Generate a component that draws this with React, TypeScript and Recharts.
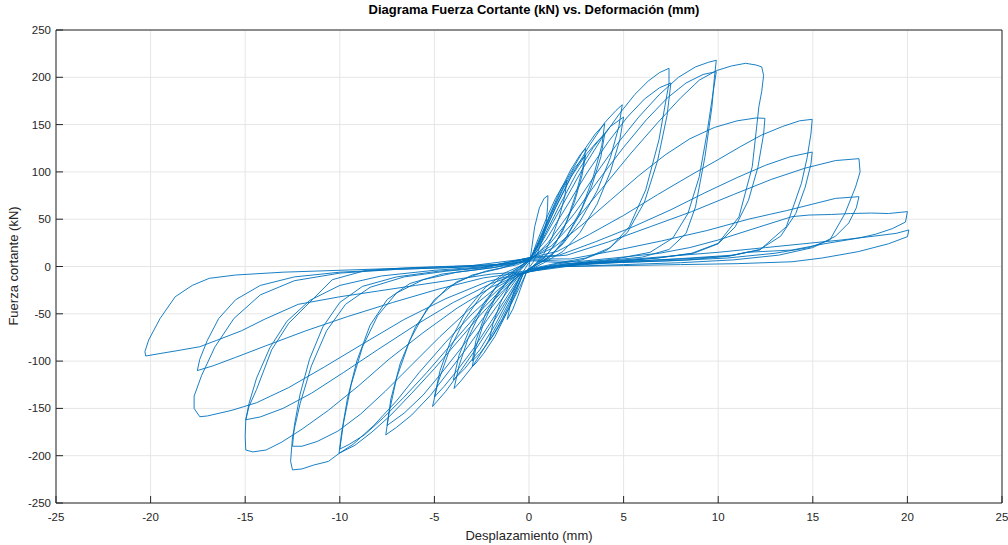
import React from 'react';
import { LineChart, Line, XAxis, YAxis, CartesianGrid } from 'recharts';

// axis ticks
const xTicks = [-25, -20, -15, -10, -5, 0, 5, 10, 15, 20, 25];
const yTicks = [-250, -200, -150, -100, -50, 0, 50, 100, 150, 200, 250];

// hysteresis cycles, [desplazamiento mm, fuerza kN]
const cycle01 = [
  [0, 0], [0.15, 20], [0.3, 42], [0.55, 62], [0.8, 72], [1.0, 75],
  [0.98, 62], [0.9, 45], [0.7, 28], [0.45, 14], [0.2, 4], [-0.1, -4],
  [-0.35, -18], [-0.6, -32], [-0.85, -45], [-1.15, -56],
  [-1.0, -42], [-0.8, -26], [-0.5, -12], [-0.2, -2], [0.05, 6],
];
const cycle02 = [
  [0.4, 25], [0.9, 50], [1.4, 72], [1.8, 86], [2.0, 91],
  [1.9, 75], [1.6, 52], [1.2, 30], [0.8, 14], [0.4, 4], [-0.1, -5],
  [-0.5, -22], [-1.0, -42], [-1.5, -60], [-1.9, -73], [-2.1, -78],
  [-1.9, -60], [-1.5, -38], [-1.0, -18], [-0.5, -5], [0, 6],
];
const cycle03 = [
  [0.4, 22], [1.0, 50], [1.6, 78], [2.2, 102], [2.7, 118], [3.0, 125],
  [2.85, 105], [2.5, 78], [2.0, 48], [1.4, 24], [0.8, 9], [0.2, 0], [-0.3, -7],
  [-0.7, -28], [-1.2, -50], [-1.8, -74], [-2.4, -92], [-2.8, -102], [-3.0, -106],
  [-2.8, -85], [-2.4, -60], [-1.8, -34], [-1.1, -14], [-0.4, -2], [0.1, 8],
];
const cycle04 = [
  [0.5, 24], [1.1, 52], [1.8, 82], [2.4, 104], [3.0, 118],
  [2.8, 96], [2.4, 68], [1.8, 38], [1.1, 16], [0.4, 3], [-0.3, -7],
  [-0.8, -30], [-1.4, -55], [-2.0, -76], [-2.6, -92], [-3.0, -100],
  [-2.8, -78], [-2.3, -50], [-1.6, -26], [-0.9, -9], [-0.2, 2], [0.1, 9],
];
const cycle05 = [
  [0.5, 25], [1.2, 58], [2.0, 92], [2.8, 120], [3.5, 140], [4.0, 151],
  [3.85, 128], [3.4, 95], [2.8, 62], [2.0, 32], [1.2, 12], [0.4, 2], [-0.3, -8],
  [-0.8, -28], [-1.5, -55], [-2.3, -84], [-3.0, -106], [-3.6, -121], [-3.96, -129],
  [-3.7, -105], [-3.2, -75], [-2.5, -45], [-1.7, -20], [-0.8, -5], [0.1, 9],
];
const cycle06 = [
  [0.6, 26], [1.4, 62], [2.2, 94], [3.0, 118], [3.6, 132], [4.0, 140],
  [3.8, 116], [3.3, 84], [2.6, 52], [1.8, 25], [1.0, 8], [0.2, 0], [-0.4, -8],
  [-1.0, -32], [-1.8, -62], [-2.6, -88], [-3.4, -108], [-4.0, -120],
  [-3.7, -94], [-3.1, -64], [-2.3, -36], [-1.4, -14], [-0.5, -2], [0.1, 9],
];
const cycle07 = [
  [0.6, 28], [1.4, 62], [2.3, 98], [3.2, 128], [4.0, 152], [4.6, 165], [4.93, 171],
  [4.75, 148], [4.3, 115], [3.6, 80], [2.7, 48], [1.8, 24], [0.9, 8], [0.1, -2], [-0.4, -9],
  [-1.0, -30], [-1.8, -56], [-2.7, -84], [-3.6, -110], [-4.4, -132], [-5.1, -148],
  [-4.8, -122], [-4.2, -88], [-3.4, -56], [-2.5, -30], [-1.5, -12], [-0.6, -2], [0.1, 9],
];
const cycle08 = [
  [0.7, 28], [1.6, 64], [2.5, 98], [3.4, 126], [4.3, 148], [5.0, 158],
  [4.8, 134], [4.3, 100], [3.6, 66], [2.7, 36], [1.8, 16], [0.8, 4], [-0.4, -8],
  [-1.1, -30], [-2.0, -58], [-2.9, -86], [-3.8, -110], [-4.5, -127], [-5.0, -138],
  [-4.7, -110], [-4.1, -76], [-3.3, -46], [-2.3, -22], [-1.3, -7], [-0.3, 2], [0.2, 9],
];
const cycle09 = [
  [0.8, 30], [1.8, 66], [2.8, 102], [3.8, 134], [4.8, 162], [5.6, 182], [6.3, 196], [6.9, 205], [7.4, 209.5],
  [7.4, 194], [6.87, 134], [6.17, 81], [5.3, 42], [4.3, 20], [3.0, 9], [1.6, 4], [0.2, -2], [-0.5, -9],
  [-1.2, -28], [-2.2, -56], [-3.2, -84], [-4.2, -110], [-5.2, -136], [-6.2, -157], [-7.0, -170], [-7.57, -178],
  [-7.4, -155], [-7.0, -118], [-6.3, -78], [-5.4, -45], [-4.3, -22], [-3.0, -9], [-1.5, -2], [0.1, 9],
];
const cycle10 = [
  [0.9, 28], [2.0, 64], [3.1, 100], [4.2, 132], [5.2, 158], [6.1, 177], [6.9, 189], [7.5, 194],
  [7.3, 160], [6.8, 112], [6.1, 68], [5.2, 36], [4.1, 17], [2.8, 7], [1.3, 2], [-0.5, -8],
  [-1.3, -26], [-2.4, -54], [-3.5, -84], [-4.6, -112], [-5.6, -136], [-6.6, -155], [-7.5, -168],
  [-7.3, -140], [-6.8, -102], [-6.0, -64], [-5.0, -35], [-3.8, -16], [-2.3, -5], [-0.6, 2], [0.2, 9],
];
const cycle11 = [
  [1.0, 25], [2.2, 58], [3.4, 94], [4.6, 128], [5.8, 158], [6.9, 182], [7.9, 200], [8.8, 211], [9.5, 216], [9.9, 218],
  [9.8, 200], [9.67, 169], [9.3, 116], [8.8, 63], [8.3, 35], [7.4, 18], [6.0, 10], [4.0, 6], [2.0, 3], [0, -3], [-0.5, -9],
  [-1.4, -26], [-2.6, -52], [-3.8, -80], [-5.0, -108], [-6.2, -134], [-7.3, -157], [-8.3, -175], [-9.2, -189], [-10.04, -197.5],
  [-9.9, -175], [-9.6, -140], [-9.1, -100], [-8.4, -62], [-7.5, -35], [-6.3, -18], [-4.6, -8], [-2.6, -3], [-0.8, 2], [0.2, 10],
];
const cycle12 = [
  [1.1, 24], [2.4, 56], [3.7, 92], [5.0, 126], [6.2, 155], [7.3, 178], [8.3, 194], [9.2, 203], [9.9, 206],
  [9.7, 180], [9.4, 140], [9.0, 95], [8.4, 56], [7.6, 30], [6.4, 15], [4.6, 8], [2.6, 4], [0.6, -1], [-0.5, -9],
  [-1.5, -25], [-2.8, -52], [-4.1, -82], [-5.4, -112], [-6.6, -138], [-7.7, -160], [-8.7, -178], [-9.5, -188], [-10.0, -193],
  [-9.8, -165], [-9.4, -125], [-8.8, -85], [-8.0, -52], [-7.0, -28], [-5.6, -14], [-3.8, -6], [-1.8, -1], [0.2, 10],
];
const cycle13 = [
  [1.2, 22], [2.6, 52], [4.0, 86], [5.4, 120], [6.8, 152], [8.0, 178], [9.0, 197], [9.9, 207], [10.7, 212], [11.45, 214.8], [12.0, 213], [12.3, 211], [12.4, 202],
  [12.3, 185], [12.15, 169], [11.8, 105.5], [11.1, 52.6], [10.0, 24.5], [8.6, 14], [6.8, 9], [4.8, 6], [2.6, 3], [0.6, -2], [-0.6, -9],
  [-1.6, -24], [-3.0, -50], [-4.4, -80], [-5.8, -112], [-7.0, -142], [-8.2, -168], [-9.3, -188], [-10.0, -197], [-10.6, -206], [-11.4, -210], [-12.0, -214], [-12.5, -215],
  [-12.6, -206], [-12.5, -180], [-12.1, -145], [-11.5, -105], [-10.7, -68], [-9.7, -40], [-8.4, -22], [-6.6, -11], [-4.4, -5], [-2.2, -1], [0.2, 10],
];
const cycle14 = [
  [1.3, 20], [2.8, 44], [4.3, 70], [5.8, 96], [7.2, 118], [8.5, 135], [9.8, 147], [11.0, 154], [12.0, 157], [12.47, 156.6],
  [12.4, 140], [12.1, 105], [11.6, 70], [10.9, 42], [10.0, 24], [8.7, 14], [6.8, 9], [4.6, 5], [2.4, 2], [0.4, -3], [-0.6, -9],
  [-1.7, -22], [-3.2, -46], [-4.7, -74], [-6.2, -104], [-7.6, -132], [-8.9, -156], [-10.1, -174], [-11.2, -185], [-12.0, -190], [-12.5, -190],
  [-12.4, -168], [-12.1, -135], [-11.6, -98], [-10.9, -64], [-10.0, -38], [-8.8, -21], [-7.0, -11], [-4.8, -5], [-2.4, -1], [0.2, 10],
];
const cycle15 = [
  [1.5, 16], [3.2, 34], [5.0, 54], [6.8, 76], [8.5, 96], [10.0, 113], [11.2, 127], [12.3, 139], [13.4, 148], [14.3, 154], [14.97, 155.6],
  [14.9, 140], [14.7, 115], [14.4, 88], [13.6, 42], [12.2, 17.5], [10.5, 11], [8.2, 8], [5.6, 6], [3.0, 4], [0.8, -1], [-0.6, -9],
  [-2.0, -22], [-3.8, -44], [-5.6, -70], [-7.4, -98], [-9.0, -126], [-10.6, -152], [-12.0, -172], [-13.1, -186], [-13.9, -194], [-14.6, -196], [-14.97, -194],
  [-15.0, -180], [-14.97, -162], [-14.8, -145], [-14.4, -118], [-13.7, -86], [-12.8, -58], [-11.6, -36], [-10.0, -20], [-7.8, -10], [-5.0, -4], [-2.2, 0], [0.2, 10],
];
const cycle16 = [
  [1.6, 12], [3.5, 26], [5.5, 42], [7.5, 60], [9.3, 78], [11.0, 94], [12.5, 107], [13.8, 116], [14.97, 121],
  [14.9, 108], [14.6, 84], [14.1, 56], [13.3, 32], [12.2, 18], [10.6, 11], [8.4, 7], [5.8, 5], [3.2, 3], [0.8, -2], [-0.6, -8],
  [-2.0, -18], [-4.0, -38], [-6.0, -62], [-8.0, -88], [-9.8, -112], [-11.5, -134], [-13.0, -150], [-14.2, -159], [-14.97, -162],
  [-14.8, -148], [-14.4, -130], [-13.6, -88], [-12.7, -60], [-11.8, -42], [-10.4, -14], [-8.6, -4], [-6.0, -1], [-3.0, 1], [0.2, 9],
];
const cycle17 = [
  [2.0, 12], [4.2, 26], [6.4, 42], [8.6, 58], [10.8, 76], [12.8, 92], [14.6, 104], [16.2, 112], [17.44, 114],
  [17.5, 100], [17.26, 84], [16.7, 56], [15.9, 28], [14.8, 20], [13.0, 14], [10.5, 9], [7.5, 6], [4.5, 4], [1.5, 0], [-0.6, -8],
  [-2.2, -16], [-4.4, -34], [-6.6, -56], [-8.8, -82], [-10.8, -106], [-12.7, -128], [-14.4, -144], [-15.7, -152], [-17.0, -158], [-17.4, -158.8],
  [-17.7, -150], [-17.7, -137], [-17.3, -115], [-16.6, -85], [-15.6, -55], [-14.2, -30], [-12.4, -15], [-10.0, -7], [-7.0, -3], [-4.0, -1], [-1.0, 3], [0.2, 8],
];
const cycle18 = [
  [2.2, 8], [4.6, 17], [7.0, 27], [9.4, 38], [11.6, 50], [12.7, 55], [13.6, 59], [15.0, 66], [16.2, 72], [17.44, 73.8],
  [17.3, 62], [16.9, 46], [16.2, 32], [15.0, 20], [13.2, 12], [10.8, 7], [8.0, 4], [5.0, 2], [2.0, 0], [-0.6, -7],
  [-2.4, -12], [-4.8, -24], [-7.2, -38], [-9.6, -53], [-11.8, -68], [-13.8, -83], [-15.5, -96], [-16.7, -105], [-17.53, -110],
  [-17.4, -98], [-17.0, -78], [-16.4, -55], [-15.5, -35], [-14.2, -20], [-12.4, -11], [-10.0, -6], [-7.0, -3], [-4.0, -1], [-1.0, 2], [0.2, 7],
];
const cycle19 = [
  [2.5, 5], [5.0, 10], [6.9, 14], [8.5, 20], [10.0, 28], [11.1, 35], [12.2, 42], [13.9, 52.7], [14.8, 54.4], [16.0, 55], [17.0, 56], [18.1, 56.5], [19.0, 56], [20.0, 58],
  [19.9, 47], [19.2, 40], [18.3, 34], [17.4, 30], [15.6, 24], [13.9, 17.4], [11.5, 15], [10.8, 12], [8.5, 9], [6.0, 6], [3.0, 3], [0.5, -2], [-0.6, -6],
  [-2.0, -8], [-4.0, -14], [-6.0, -20], [-8.0, -26], [-10.0, -32], [-12.2, -40], [-14.0, -56], [-15.2, -68], [-16.5, -78], [-17.4, -84.8], [-18.6, -89], [-19.5, -92], [-20.26, -94.6],
  [-20.3, -90], [-20.1, -77.6], [-19.5, -55], [-18.7, -32], [-17.8, -20], [-16.9, -12.5], [-15.5, -9], [-13.0, -6], [-10.0, -4], [-7.0, -2], [-4.0, 0], [-1.0, 3], [0.2, 6],
];
const cycle20 = [
  [2.5, 3], [5.0, 7], [7.5, 11], [10.0, 15], [12.5, 20], [14.5, 24], [16.5, 28], [18.2, 32], [19.4, 35], [20.08, 38.6],
  [20.0, 31.5], [19.0, 24], [17.4, 15.7], [15.5, 9], [13.9, 5], [11.0, 3], [8.0, 2], [5.0, 1], [2.0, 0],
];

const cycles = [
  cycle01, cycle02, cycle03, cycle04, cycle05, cycle06, cycle07, cycle08, cycle09, cycle10,
  cycle11, cycle12, cycle13, cycle14, cycle15, cycle16, cycle17, cycle18, cycle19, cycle20,
];

const data = cycles.flat().map(([x, y]) => ({ x, y }));

const axisColor = '#262626';
const font = '"Liberation Sans", Arial, Helvetica, sans-serif';

export default function App() {
  return (
    <div style={{ position: 'absolute', left: 0, top: 0, width: 1008, height: 545, background: '#fff', fontFamily: font }}>
      <LineChart width={1008} height={545} data={data} margin={{ top: 0, right: 0, bottom: 0, left: 0 }}>
        <CartesianGrid stroke="#e6e6e6" strokeWidth={1} />
        <XAxis
          dataKey="x" type="number" domain={[-25, 25]} ticks={xTicks} allowDataOverflow
          height={42} tickSize={-7} tickMargin={17}
          stroke={axisColor} tick={{ fill: axisColor, fontSize: 11.5, fontFamily: font }}
        />
        <XAxis
          xAxisId="top" orientation="top" type="number" domain={[-25, 25]} ticks={xTicks} allowDataOverflow
          height={30} tickSize={-7} tick={false} stroke={axisColor}
        />
        <YAxis
          type="number" domain={[-250, 250]} ticks={yTicks} allowDataOverflow
          width={56} tickSize={-7} tickMargin={12}
          stroke={axisColor} tick={{ fill: axisColor, fontSize: 11.5, fontFamily: font }}
        />
        <YAxis
          yAxisId="right" orientation="right" type="number" domain={[-250, 250]} ticks={yTicks} allowDataOverflow
          width={6} tickSize={-7} tick={false} stroke={axisColor}
        />
        <Line
          dataKey="y" type="linear" stroke="#0072BD" strokeWidth={0.9} dot={false}
          isAnimationActive={false}
        />
      </LineChart>
      <div style={{ position: 'absolute', left: 0, width: 1068, top: 2, textAlign: 'center', fontWeight: 'bold', fontSize: 13, color: '#000' }}>
        Diagrama Fuerza Cortante (kN) vs. Deformación (mm)
      </div>
      <div style={{ position: 'absolute', left: 56, width: 946, top: 528, textAlign: 'center', fontSize: 13, color: axisColor }}>
        Desplazamiento (mm)
      </div>
      <div style={{ position: 'absolute', left: 13, top: 266, width: 0, height: 0 }}>
        <div style={{ position: 'absolute', left: 0, top: 0, transform: 'translate(-50%, -50%) rotate(-90deg)', whiteSpace: 'nowrap', fontSize: 13, color: axisColor }}>
          Fuerza cortante (kN)
        </div>
      </div>
    </div>
  );
}
